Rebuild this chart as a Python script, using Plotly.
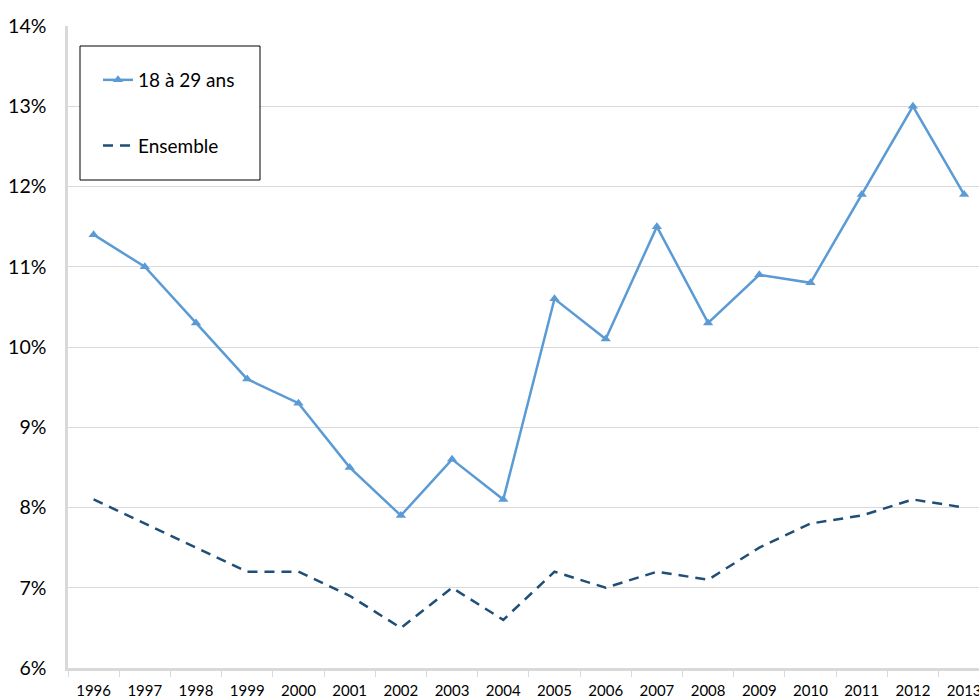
import plotly.graph_objects as go

years = [str(y) for y in range(1996, 2014)]
jeunes = [11.4, 11.0, 10.3, 9.6, 9.3, 8.5, 7.9, 8.6, 8.1, 10.6, 10.1, 11.5, 10.3, 10.9, 10.8, 11.9, 13.0, 11.9]
ensemble = [8.1, 7.8, 7.5, 7.2, 7.2, 6.9, 6.5, 7.0, 6.6, 7.2, 7.0, 7.2, 7.1, 7.5, 7.8, 7.9, 8.1, 8.0]

FONT = "Lato, 'Liberation Sans', sans-serif"
W, H = 979, 700
L, T, B = 68, 26, 32
PW, PH = W - L, H - T - B

fig = go.Figure()
fig.add_trace(go.Scatter(
    x=years, y=jeunes, name="18 à 29 ans", mode="lines+markers",
    line=dict(color="#5B9BD5", width=2.5),
    marker=dict(symbol="triangle-up", size=9, color="#5B9BD5"),
    legendgroup="a",
))
fig.add_trace(go.Scatter(
    x=years, y=ensemble, name="Ensemble", mode="lines",
    line=dict(color="#1F4E79", width=2.5, dash="10px,7px"),
    legendgroup="b",
))

def px_x(p):
    return (p - L) / PW

def px_y(p):
    return (H - B - p) / PH

fig.add_shape(type="rect", xref="paper", yref="paper",
              x0=px_x(80), x1=px_x(260), y0=px_y(180), y1=px_y(46),
              line=dict(color="black", width=1), fillcolor="white", layer="above")

fig.update_layout(
    width=W, height=H,
    margin=dict(l=L, r=0, t=T, b=B, pad=0, autoexpand=False),
    paper_bgcolor="white", plot_bgcolor="white",
    font=dict(family=FONT, color="black"),
    showlegend=True,
    legend=dict(
        x=px_x(98), y=px_y(61), xanchor="left", yanchor="top",
        bgcolor="rgba(0,0,0,0)", borderwidth=0,
        font=dict(size=19, family=FONT),
        tracegroupgap=38, traceorder="grouped",
    ),
    xaxis=dict(
        type="category", range=[-0.5, 17.29], automargin=False,
        showgrid=False, showline=True, linecolor="#D9D9D9", linewidth=2.5,
        ticks="outside", tickson="boundaries", ticklen=6, tickcolor="#D9D9D9", tickwidth=1,
        tickfont=dict(size=15, family=FONT), ticklabelstandoff=7,
        zeroline=False,
    ),
    yaxis=dict(
        range=[6, 14], dtick=1, ticksuffix="%", automargin=False,
        showgrid=True, gridcolor="#D9D9D9", gridwidth=1,
        showline=True, linecolor="#D9D9D9", linewidth=2.5,
        ticks="", tickfont=dict(size=19.5, family=FONT), ticklabelstandoff=15,
        zeroline=False,
    ),
)

fig.write_html(
    "out.html",
    config={"displayModeBar": False},
    post_script="document.body.style.margin='0';document.body.style.overflow='hidden';",
)
